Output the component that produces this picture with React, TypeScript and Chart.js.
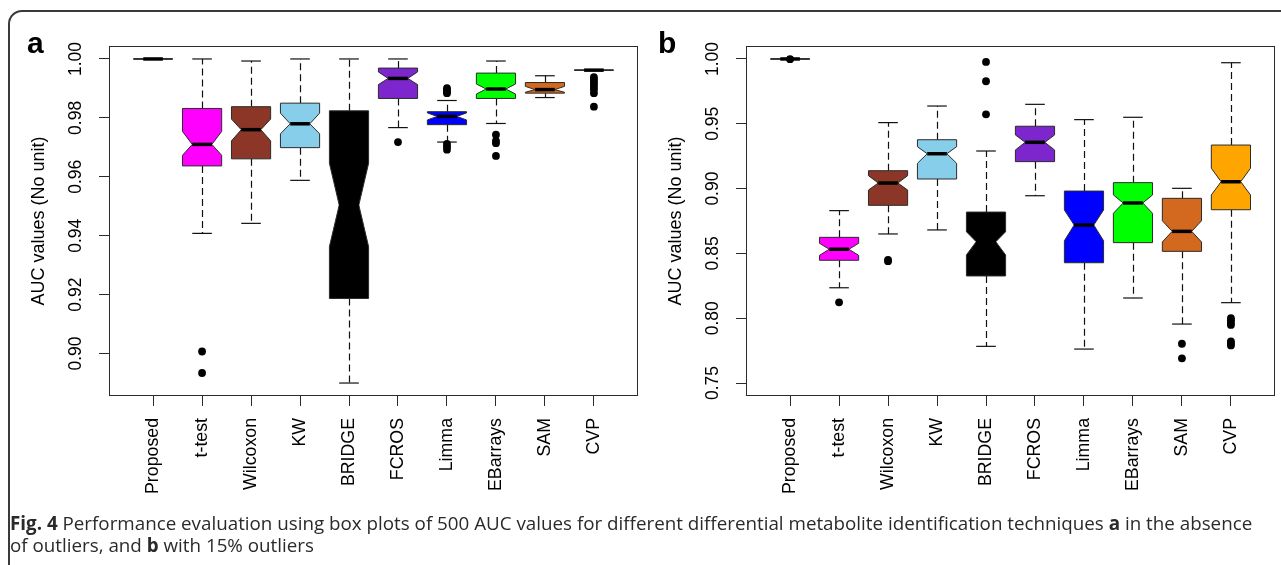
import React, { useEffect, useRef } from 'react';
import { Chart, registerables } from 'chart.js';

Chart.register(...registerables);

// ---------- data ----------
const categories = ['Proposed', 't-test', 'Wilcoxon', 'KW', 'BRIDGE', 'FCROS', 'Limma', 'EBarrays', 'SAM', 'CVP'];
const boxColors = ['#FFFFFF', '#FF00FF', '#8B3626', '#87CEEB', '#000000', '#7D26CD', '#0000FF', '#00FF00', '#D2691E', '#FFA500'];

// Panel a (absence of outliers)
const aLow = [1.0, 0.9408, 0.9442, 0.9588, 0.89, 0.9767, 0.9718, 0.9781, 0.9869, 0.9962];
const aQ1 = [1.0, 0.9637, 0.9661, 0.9699, 0.9187, 0.9866, 0.9777, 0.9866, 0.9884, 0.9962];
const aNotchLo = [1.0, 0.9673, 0.9722, 0.9746, 0.9363, 0.9913, 0.9793, 0.9881, 0.9887, 0.9962];
const aMedian = [1.0, 0.971, 0.976, 0.978, 0.9504, 0.9934, 0.9805, 0.9898, 0.9896, 0.9962];
const aNotchHi = [1.0, 0.9754, 0.9796, 0.9816, 0.9646, 0.9956, 0.9817, 0.9915, 0.9907, 0.9962];
const aQ3 = [1.0, 0.9832, 0.9838, 0.985, 0.9824, 0.9969, 0.9821, 0.9952, 0.992, 0.9962];
const aHigh = [1.0, 1.0, 0.9993, 1.0, 1.0, 1.0, 0.9859, 0.9993, 0.9943, 0.9962];
const aOutliers: number[][] = [
  [],
  [0.9007, 0.8934],
  [],
  [],
  [],
  [0.9718],
  [0.9901, 0.9895, 0.9889, 0.9884, 0.9712, 0.9703, 0.9692],
  [0.9743, 0.9722, 0.9714, 0.9671],
  [],
  [0.9938, 0.993, 0.9922, 0.9914, 0.9905, 0.9896, 0.9884, 0.9838],
];
const aTicks = [0.9, 0.92, 0.94, 0.96, 0.98, 1.0];
const aMin = 0.8856;
const aMax = 1.0044;

// Panel b (15% outliers)
const bLow = [1.0, 0.8235, 0.865, 0.8681, 0.7783, 0.8945, 0.7762, 0.8156, 0.7955, 0.812];
const bQ1 = [1.0, 0.8447, 0.8871, 0.9074, 0.8326, 0.9208, 0.8428, 0.8583, 0.8516, 0.8837];
const bNotchLo = [1.0, 0.8485, 0.8989, 0.9195, 0.8488, 0.9298, 0.8598, 0.8809, 0.8588, 0.8951];
const bMedian = [1.0, 0.8532, 0.9043, 0.9269, 0.859, 0.9357, 0.8719, 0.8889, 0.867, 0.9053];
const bNotchHi = [1.0, 0.8578, 0.91, 0.9323, 0.8667, 0.9414, 0.8835, 0.8951, 0.8752, 0.9157];
const bQ3 = [1.0, 0.8624, 0.9138, 0.9377, 0.8819, 0.9481, 0.8981, 0.9046, 0.8925, 0.9336];
const bHigh = [1.0, 0.883, 0.9509, 0.9637, 0.929, 0.965, 0.9532, 0.955, 0.9002, 0.9971];
const bOutliers: number[][] = [
  [0.9998],
  [0.8123],
  [0.845, 0.844],
  [],
  [0.9977, 0.9828, 0.9573],
  [],
  [],
  [],
  [0.7803, 0.7691],
  [0.8, 0.7985, 0.7965, 0.7948, 0.7822, 0.7805, 0.779],
];
const bTicks = [0.75, 0.8, 0.85, 0.9, 0.95, 1.0];
const bMin = 0.74;
const bMax = 1.01;

const yTitle = 'AUC values (No unit)';

// ---------- styling ----------
const FONT = '"Liberation Sans", Arial, Helvetica, sans-serif';
const CANVAS_H = 515;
const PLOT_TOP = 46;
const PLOT_BOTTOM = 396;
const BOX_HALF = 0.4;

type Stats = {
  low: number[]; q1: number[]; nlo: number[]; med: number[]; nhi: number[]; q3: number[]; high: number[];
  out: number[][]; ticks: number[]; min: number; max: number; letter: string;
};

const panelA: Stats = { low: aLow, q1: aQ1, nlo: aNotchLo, med: aMedian, nhi: aNotchHi, q3: aQ3, high: aHigh, out: aOutliers, ticks: aTicks, min: aMin, max: aMax, letter: 'a' };
const panelB: Stats = { low: bLow, q1: bQ1, nlo: bNotchLo, med: bMedian, nhi: bNotchHi, q3: bQ3, high: bHigh, out: bOutliers, ticks: bTicks, min: bMin, max: bMax, letter: 'b' };

function makeBoxPlugin(s: Stats, letterX: number) {
  return {
    id: 'notchedBoxes',
    beforeDatasetsDraw(chart: any) {
      const { ctx, scales } = chart;
      const xs = scales.x;
      const ys = scales.y;
      const py = (v: number) => ys.getPixelForValue(v);
      const seg = (x1: number, y1: number, x2: number, y2: number) => {
        ctx.beginPath();
        ctx.moveTo(x1, y1);
        ctx.lineTo(x2, y2);
        ctx.stroke();
      };
      ctx.save();
      ctx.lineCap = 'butt';
      categories.forEach((_, i) => {
        const cx = xs.getPixelForValue(i + 1);
        const hw = xs.getPixelForValue(i + 1 + BOX_HALF) - cx;
        const xl = cx - hw;
        const xr = cx + hw;
        const wx = Math.round(cx) + 0.5;
        ctx.strokeStyle = '#111';
        ctx.lineWidth = 1.2;
        ctx.setLineDash([7, 4]);
        seg(wx, py(s.q3[i]), wx, py(s.high[i]));
        seg(wx, py(s.q1[i]), wx, py(s.low[i]));
        ctx.setLineDash([]);
        seg(cx - hw / 2, py(s.high[i]), cx + hw / 2, py(s.high[i]));
        seg(cx - hw / 2, py(s.low[i]), cx + hw / 2, py(s.low[i]));
        ctx.beginPath();
        ctx.moveTo(xl, py(s.q1[i]));
        ctx.lineTo(xl, py(s.nlo[i]));
        ctx.lineTo(xl + hw / 2, py(s.med[i]));
        ctx.lineTo(xl, py(s.nhi[i]));
        ctx.lineTo(xl, py(s.q3[i]));
        ctx.lineTo(xr, py(s.q3[i]));
        ctx.lineTo(xr, py(s.nhi[i]));
        ctx.lineTo(xr - hw / 2, py(s.med[i]));
        ctx.lineTo(xr, py(s.nlo[i]));
        ctx.lineTo(xr, py(s.q1[i]));
        ctx.closePath();
        ctx.fillStyle = boxColors[i];
        ctx.fill();
        ctx.lineWidth = 1;
        ctx.strokeStyle = '#2b2b2b';
        ctx.stroke();
        ctx.lineWidth = 3.5;
        ctx.strokeStyle = '#000';
        seg(xl + hw / 2, py(s.med[i]), xr - hw / 2, py(s.med[i]));
      });
      ctx.restore();
    },
    afterDraw(chart: any) {
      const { ctx, chartArea: a } = chart;
      ctx.save();
      ctx.strokeStyle = '#2b2b2b';
      ctx.lineWidth = 1;
      const l = Math.round(a.left) + 0.5;
      const t = Math.round(a.top) + 0.5;
      const r = Math.round(a.right) - 0.5;
      const b = Math.round(a.bottom) - 0.5;
      ctx.strokeRect(l, t, r - l, b - t);
      ctx.fillStyle = '#000';
      ctx.font = `bold 30px ${FONT}`;
      ctx.textBaseline = 'alphabetic';
      ctx.textAlign = 'left';
      ctx.fillText(s.letter, letterX, 53);
      ctx.restore();
    },
  };
}

type PanelProps = { s: Stats; left: number; width: number; plotLeft: number; plotRight: number; letterX: number };

function Panel({ s, left, width, plotLeft, plotRight, letterX }: PanelProps) {
  const ref = useRef<HTMLCanvasElement>(null);
  useEffect(() => {
    const points = s.out.flatMap((arr, i) => arr.map((v) => ({ x: i + 1, y: v })));
    const chart = new Chart(ref.current as HTMLCanvasElement, {
      type: 'scatter',
      data: {
        datasets: [
          {
            data: points,
            pointRadius: 3.9,
            pointHoverRadius: 3.9,
            pointBackgroundColor: '#000',
            pointBorderColor: '#000',
            pointBorderWidth: 0,
          },
        ],
      },
      options: {
        responsive: false,
        maintainAspectRatio: false,
        animation: false,
        events: [],
        layout: { padding: { left: 0, right: width - plotRight, top: PLOT_TOP, bottom: 0 } },
        plugins: { legend: { display: false }, tooltip: { enabled: false } },
        scales: {
          x: {
            type: 'linear',
            min: 0.1,
            max: 10.9,
            bounds: 'data',
            afterBuildTicks: (sc: any) => {
              sc.ticks = categories.map((_, i) => ({ value: i + 1 }));
            },
            afterFit: (sc: any) => {
              sc.height = CANVAS_H - PLOT_BOTTOM;
            },
            grid: { display: true, drawOnChartArea: false, drawTicks: true, tickLength: 10, color: '#2b2b2b', tickColor: '#2b2b2b', lineWidth: 1 },
            border: { display: false },
            ticks: {
              autoSkip: false,
              minRotation: 90,
              maxRotation: 90,
              padding: 12,
              color: '#000',
              font: { family: FONT, size: 17.75 },
              callback: (v: any) => categories[Math.round(Number(v)) - 1] ?? '',
            },
          },
          y: {
            type: 'linear',
            min: s.min,
            max: s.max,
            bounds: 'data',
            afterBuildTicks: (sc: any) => {
              sc.ticks = s.ticks.map((v) => ({ value: v }));
            },
            afterFit: (sc: any) => {
              sc.width = plotLeft;
            },
            grid: { display: true, drawOnChartArea: false, drawTicks: true, tickLength: 10, color: '#2b2b2b', tickColor: '#2b2b2b', lineWidth: 1 },
            border: { display: false },
            ticks: {
              autoSkip: false,
              minRotation: 90,
              maxRotation: 90,
              crossAlign: 'center',
              padding: 6,
              color: '#000',
              font: { family: FONT, size: 17.5 },
              callback: (v: any) => Number(v).toFixed(2),
            },
            title: {
              display: true,
              text: yTitle,
              color: '#000',
              font: { family: FONT, size: 18 },
              padding: { top: plotLeft - 70 - 10.8, bottom: 0 },
            },
          },
        },
      } as any,
      plugins: [makeBoxPlugin(s, letterX)],
    });
    return () => chart.destroy();
  }, []);
  return (
    <canvas
      ref={ref}
      width={width}
      height={CANVAS_H}
      style={{ position: 'absolute', left, top: 0, width, height: CANVAS_H }}
    />
  );
}

export default function App() {
  return (
    <div style={{ position: 'absolute', left: 0, top: 0, width: 1281, height: 565, overflow: 'hidden', background: '#fff' }}>
      <div
        style={{
          position: 'absolute',
          left: 8,
          top: 10,
          width: 1400,
          height: 700,
          border: '2px solid #3a3a3a',
          borderRadius: 14,
          boxSizing: 'border-box',
        }}
      />
      <Panel s={panelA} left={0} width={645} plotLeft={109} plotRight={638} letterX={27} />
      <Panel s={panelB} left={640} width={641} plotLeft={106} plotRight={635} letterX={18} />
      <div
        style={{
          position: 'absolute',
          left: 10,
          top: 513,
          fontFamily: '"Open Sans", sans-serif',
          fontSize: 18.8,
          lineHeight: '21.5px',
          color: '#2a2a2a',
          whiteSpace: 'nowrap',
        }}
      >
        <b>Fig. 4</b> Performance evaluation using box plots of 500 AUC values for different differential metabolite identification techniques <b>a</b> in the absence
        <br />
        of outliers, and <b>b</b> with 15% outliers
      </div>
    </div>
  );
}
